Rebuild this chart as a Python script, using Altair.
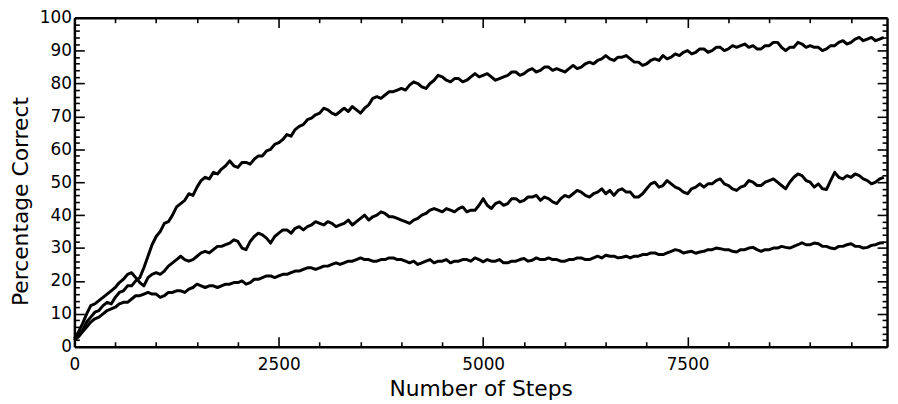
import altair as alt
import pandas as pd

# x positions (number of steps) at which the curves were read
steps = list(range(0, 9901, 50))

# top curve (final ~93 %)
curve_top = [
    2, 3.5, 5, 7.5, 9, 10.5, 11, 12.5, 13.5, 13,
    15, 16.5, 17, 18.5, 18.5, 20, 21, 24, 27.5, 31,
    33.5, 35, 37.5, 38, 40, 42.5, 43.5, 44.5, 46.5, 46,
    48.5, 50.5, 51.5, 51, 53, 52.5, 54, 55, 56.5, 55,
    54.5, 56, 56, 55.5, 57, 58, 58, 59.5, 60, 61.5,
    62, 63, 64.5, 64, 66, 67, 67.5, 69, 69.5, 70.5,
    71, 72.5, 72, 71, 70.5, 71.5, 72.5, 71.5, 73, 72,
    71, 72.5, 73.5, 75.5, 76, 75.5, 76.5, 77.5, 77.5, 78,
    78.5, 78, 79.5, 80.5, 80, 79, 78.5, 80, 81, 82.5,
    82, 81, 80.5, 81.5, 81.5, 80.5, 81, 82, 83, 82,
    82.5, 83, 82, 81, 81.5, 82, 82.5, 83.5, 83.5, 82.5,
    83, 84, 84.5, 83.5, 84, 85, 85, 84, 84.5, 84,
    83.5, 84.5, 85.5, 84.5, 85, 86, 86.5, 86, 87, 87.5,
    88.5, 87.5, 87, 88, 88, 88.5, 87.5, 86.5, 86.5, 85.5,
    86, 87, 87.5, 87, 88.5, 87.5, 88, 89, 88.5, 89.5,
    90, 89, 89.5, 90.5, 90.5, 89.5, 90, 91, 91, 90,
    90.5, 91.5, 91, 91.5, 92, 91, 91.5, 90.5, 90.5, 91.5,
    91.5, 92.5, 92.5, 91, 90, 91, 91, 92.5, 92, 91,
    91.5, 91, 91, 90, 90.5, 91.5, 91.5, 92.5, 93, 92,
    92.5, 93.5, 94, 93, 93.5, 94, 93, 93.5, 94,
]

# middle curve (final ~51 %)
curve_mid = [
    2.5, 4.5, 7, 10, 12.5, 13, 14, 15, 16, 17,
    18, 19.5, 20.5, 22, 22.5, 21, 19.5, 18.5, 21, 22,
    22.5, 22, 23, 24.5, 25.5, 26.5, 27.5, 26.5, 26, 26.5,
    27.5, 28.5, 29, 28.5, 29.5, 30.5, 30.5, 31, 31.5, 32.5,
    32, 30, 29.5, 32, 33.5, 34.5, 34, 33, 31.5, 33.5,
    34.5, 35.5, 35.5, 34.5, 36, 36.5, 35.5, 36.5, 37, 38,
    37.5, 37, 38, 37.5, 36.5, 37, 37.5, 38.5, 37, 38,
    39, 40, 38.5, 39.5, 40, 41, 40.5, 39.5, 39.5, 39,
    38.5, 38, 37.5, 38.5, 39, 40, 40.5, 41.5, 42, 41.5,
    41, 42, 41.5, 41, 42, 42.5, 41, 41.5, 41.5, 43,
    45, 43, 42, 43.5, 44, 43, 43.5, 45, 45, 44,
    44.5, 45.5, 45.5, 46, 44.5, 45.5, 45, 44, 43.5, 45,
    46, 45.5, 46.5, 47.5, 47, 46, 45.5, 46.5, 47, 48,
    46.5, 47.5, 46, 47.5, 48, 47, 47, 45.5, 45.5, 46.5,
    48, 49.5, 50, 48.5, 49, 50.5, 49.5, 48.5, 48, 47,
    46.5, 48, 48.5, 49.5, 48.5, 49.5, 49.5, 50.5, 51, 49.5,
    49, 48, 47.5, 48.5, 49, 50.5, 50, 49, 49, 50,
    50.5, 51, 50, 49, 48, 50, 51.5, 52.5, 52, 50.5,
    50, 48.5, 49.5, 48, 47.8, 50.5, 53, 51.5, 51, 52,
    51.5, 52.5, 52, 51, 50.5, 49.5, 50, 51, 51.5,
]

# bottom curve (final ~31 %)
curve_low = [
    2, 3, 4.5, 6, 7.5, 8.5, 9, 10, 11, 11.5,
    12, 13, 13.5, 13.5, 14.5, 15.5, 15.5, 16, 16.5, 16,
    16, 15, 15.5, 16.5, 16.5, 17, 17, 16.5, 17.5, 18,
    19, 18.5, 18, 18.5, 18.5, 18, 18.5, 19, 19, 19.5,
    19.5, 20, 19, 19.5, 20.5, 20.5, 21, 21.5, 21.5, 21,
    21.5, 22, 22, 22.5, 23, 23, 23.5, 24, 24, 23.5,
    24, 24.5, 24.5, 25, 25.5, 25, 25.5, 26, 26, 26.5,
    27, 26.5, 26.5, 26, 26, 26.5, 26.5, 27, 27, 26.5,
    26.5, 26, 25.5, 26, 25, 25.5, 26, 26.5, 25.5, 26,
    26, 26.5, 25.5, 26, 26, 26.5, 26.5, 26, 27, 26.5,
    25.8, 26.5, 26, 26, 26.5, 25.5, 25.5, 26, 26, 26.5,
    26.8, 26, 26.3, 27, 26.5, 26.5, 27, 26.5, 26.5, 26,
    26, 26.5, 26.5, 27, 27, 26.5, 26.5, 27, 27.5, 27,
    27.8, 27.5, 27.5, 27, 27.2, 27.5, 27, 27.5, 27.5, 28,
    28, 28.5, 28.5, 28, 28, 28.5, 29, 29.5, 29.2, 28.5,
    28.8, 29, 28.4, 28.8, 29, 29.5, 29.5, 30, 29.8, 29.5,
    29.5, 29, 28.8, 29.5, 29.5, 30, 30.2, 29.5, 29, 29.5,
    29.5, 30, 30, 30.5, 30.2, 30, 30.5, 31, 31.6, 31,
    31, 31.5, 31.3, 30.5, 30.5, 30, 29.8, 30.5, 30.5, 31,
    31.3, 30.5, 30.5, 30, 30.2, 30.8, 31, 31.5, 31.6,
]

x_ticks = list(range(0, 10000, 500))
y_ticks = list(range(0, 101, 2))

rows = []
for name, vals in [("top", curve_top), ("mid", curve_mid), ("low", curve_low)]:
    for s, v in zip(steps, vals):
        rows.append({"step": s, "pct": v, "run": name})
df = pd.DataFrame(rows)

FONT = "DejaVu Sans"
xscale = alt.Scale(domain=[0, 9940], nice=False, zero=False)
yscale = alt.Scale(domain=[0, 100], nice=False)

common = dict(
    grid=False,
    domainColor="black",
    domainWidth=2.5,
    tickColor="black",
    tickWidth=1.6,
    labelFont=FONT,
    labelColor="black",
    labelFontSize=17,
    labelFlush=False,
    labelOverlap=False,
    titleFont=FONT,
    titleColor="black",
    titleFontWeight="normal",
)

x_bottom = alt.Axis(
    orient="bottom",
    values=x_ticks,
    format="d",
    labelExpr="datum.value % 2500 === 0 ? datum.label : ''",
    tickSize={"expr": "datum.value % 2500 === 0 ? -10 : -5"},
    labelPadding=20,
    title="Number of Steps",
    titleFontSize=22,
    titleBaseline="alphabetic",
    titleY=49,
    **common,
)
x_top = alt.Axis(
    orient="top",
    values=x_ticks,
    labels=False,
    tickSize={"expr": "datum.value % 2500 === 0 ? -10 : -5"},
    title=None,
    **common,
)
y_left = alt.Axis(
    orient="left",
    values=y_ticks,
    format="d",
    labelExpr="datum.value % 10 === 0 ? datum.label : ''",
    tickSize={"expr": "datum.value % 10 === 0 ? -10 : -5"},
    labelPadding=13,
    title="Percentage Correct",
    titleFontSize=22,
    titleAngle=270,
    titleAlign="center",
    titleBaseline="alphabetic",
    titleX=-47,
    titleY=185,
    **common,
)
y_right = alt.Axis(
    orient="right",
    values=y_ticks,
    labels=False,
    tickSize={"expr": "datum.value % 10 === 0 ? -10 : -5"},
    title=None,
    **common,
)

base = alt.Chart(df)
lines = base.mark_line(color="black", strokeWidth=3, strokeJoin="round").encode(
    x=alt.X("step:Q", scale=xscale, axis=x_bottom),
    y=alt.Y("pct:Q", scale=yscale, axis=y_left),
    detail="run:N",
)
frame = base.mark_line(opacity=0).encode(
    x=alt.X("step:Q", scale=xscale, axis=x_top),
    y=alt.Y("pct:Q", scale=yscale, axis=y_right),
    detail="run:N",
)

chart = (
    alt.layer(lines, frame)
    .resolve_axis(x="independent", y="independent")
    .properties(
        width=820,
        height=332,
        autosize="none",
        padding={"left": 67, "top": 8, "right": 3, "bottom": 56},
        background="white",
    )
    .configure_view(stroke=None)
)

chart.save("out.html", embed_options={"renderer": "svg", "actions": False})
